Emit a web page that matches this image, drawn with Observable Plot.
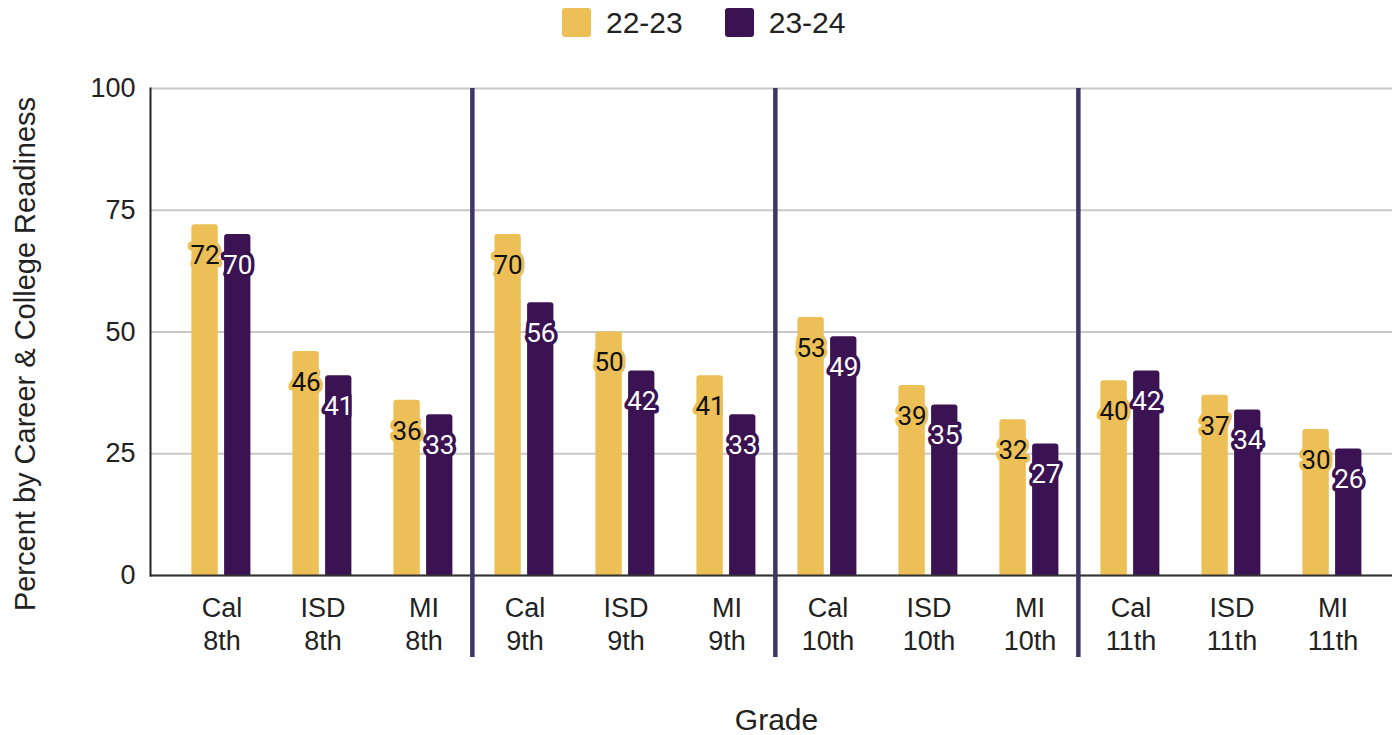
<!DOCTYPE html>
<html>
<head>
<meta charset="utf-8">
<script src="https://cdn.jsdelivr.net/npm/d3@7"></script>
<script src="https://cdn.jsdelivr.net/npm/@observablehq/plot@0.6"></script>
<style>
  html, body { margin: 0; padding: 0; background: #ffffff; }
  body { width: 1392px; height: 735px; overflow: hidden; font-family: "Liberation Sans", Arial, sans-serif; }
  #legend { height: 45px; position: relative; display: flex; align-items: center; padding-left: 562px; box-sizing: border-box; }
  .item { display: flex; align-items: center; margin-right: 42px; }
  .sw { width: 29px; height: 29px; border-radius: 3px; margin-right: 15px; }
  .lab { font-size: 30px; color: #222; }
  #chart svg { display: block; }
</style>
</head>
<body>
<div id="legend"></div>
<div id="chart"></div>
<script>
const categories = ["Cal 8th","ISD 8th","MI 8th","Cal 9th","ISD 9th","MI 9th","Cal 10th","ISD 10th","MI 10th","Cal 11th","ISD 11th","MI 11th"];
const series = ["22-23", "23-24"];
const values2223 = [72, 46, 36, 70, 50, 41, 53, 39, 32, 40, 37, 30];
const values2324 = [70, 41, 33, 56, 42, 33, 49, 35, 27, 42, 34, 26];
const seriesColors = ["#ECBF57", "#3B1252"];
const yTicks = [0, 25, 50, 75, 100];
const groupStarts = ["Cal 9th", "Cal 10th", "Cal 11th"];
const yTitle = "Percent by Career & College Readiness";
const xTitle = "Grade";

// legend
const legend = document.getElementById("legend");
series.forEach((s, i) => {
  const it = document.createElement("div");
  it.className = "item";
  it.innerHTML = `<div class="sw" style="background:${seriesColors[i]}"></div><div class="lab">${s}</div>`;
  legend.appendChild(it);
});

const rows2223 = categories.map((c, i) => ({cat: c, v: values2223[i]}));
const rows2324 = categories.map((c, i) => ({cat: c, v: values2324[i]}));

const xRange = [169.6, 1384.84];
const step = (xRange[1] - xRange[0]) / categories.length;

const plot = Plot.plot({
  width: 1392,
  height: 690,
  marginTop: 43,
  marginBottom: 160,
  marginLeft: 150,
  marginRight: 0,
  style: {fontFamily: "Liberation Sans, Arial, sans-serif", color: "#222", background: "#fff"},
  x: {domain: categories, range: xRange, padding: 0},
  y: {domain: [0, 100]},
  marks: [
    Plot.gridY(yTicks, {stroke: "#c8c8c8", strokeOpacity: 1, strokeWidth: 2}),
    Plot.barY(rows2223, {x: "cat", y: "v", fill: seriesColors[0], insetLeft: 20.4, insetRight: 54.2, rx: 3, insetBottom: -5, clip: true}),
    Plot.barY(rows2324, {x: "cat", y: "v", fill: seriesColors[1], insetLeft: 53.1, insetRight: 21.6, rx: 3, insetBottom: -5, clip: true}),
    Plot.ruleY([0], {stroke: "#333", strokeWidth: 2}),
    Plot.frame({anchor: "left", stroke: "#222", strokeWidth: 2}),
    Plot.ruleX(groupStarts, {x: d => d, y1: 100, y2: 0, dx: -step / 2 - 2, insetBottom: -82, stroke: "#3F3566", strokeWidth: 4.5}),
    Plot.text(rows2223, {x: "cat", y: "v", text: d => String(d.v), dx: -16.9, dy: 31, fill: "#111", stroke: seriesColors[0], strokeWidth: 7, fontSize: 26, fontFamily: "Roboto", textAnchor: "middle", lineAnchor: "middle"}),
    Plot.text(rows2324, {x: "cat", y: "v", text: d => String(d.v), dx: 15.8, dy: 31, fill: "#fff", stroke: seriesColors[1], strokeWidth: 7, fontSize: 26, fontFamily: "Roboto", textAnchor: "middle", lineAnchor: "middle"}),
    Plot.axisY({ticks: yTicks, tickSize: 0, tickPadding: 15, fontSize: 27, label: null}),
    Plot.axisX({tickSize: 0, tickPadding: 18, fontSize: 27, lineHeight: 1.22, tickFormat: d => d.replace(" ", "\n"), label: null}),
    Plot.text([yTitle], {frameAnchor: "left", rotate: -90, dx: -125, dy: 22, fontSize: 29, fill: "#222", textAnchor: "middle", lineAnchor: "middle"}),
    Plot.text([xTitle], {frameAnchor: "bottom", dx: 5, dy: 145, fontSize: 30, fill: "#222", textAnchor: "middle", lineAnchor: "middle"})
  ]
});
document.getElementById("chart").appendChild(plot);
</script>
</body>
</html>
